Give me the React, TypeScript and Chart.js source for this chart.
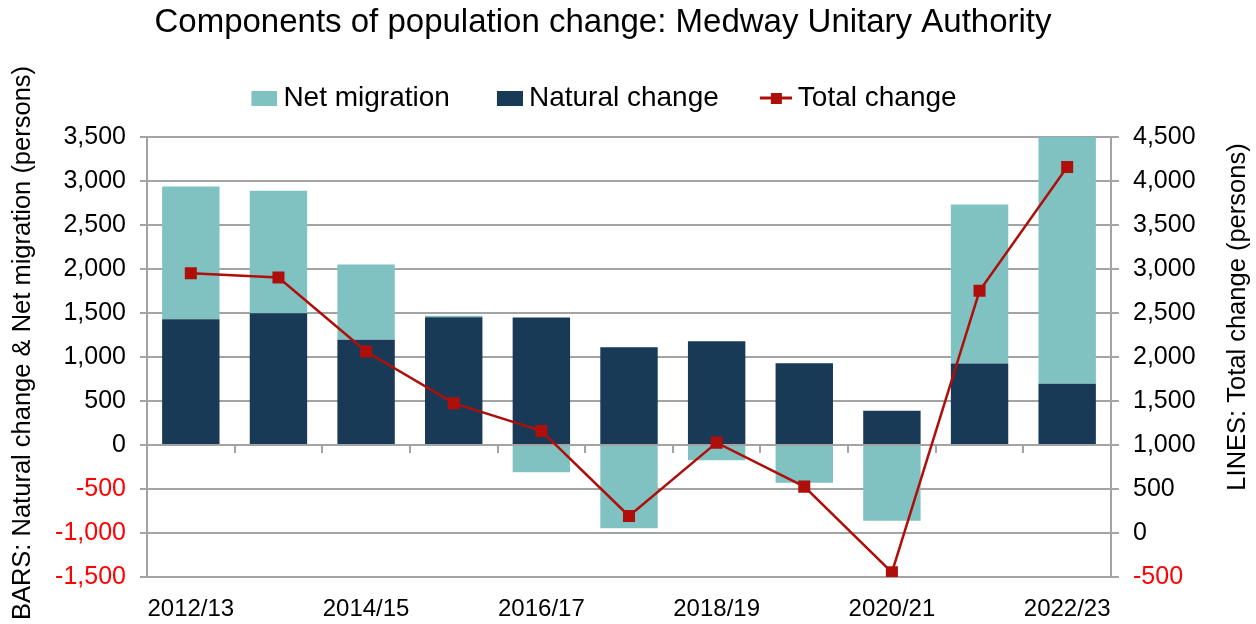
import React, { useEffect, useRef } from 'react';
import { Chart, registerables } from 'chart.js';

Chart.register(...registerables);

// ---- Data ----
const categories = ['2012/13', '2013/14', '2014/15', '2015/16', '2016/17', '2017/18', '2018/19', '2019/20', '2020/21', '2021/22', '2022/23'];
const netMigration = [1508, 1391, 853, 18, -310, -946, -174, -429, -861, 1808, 2815];
const naturalChange = [1429, 1497, 1197, 1452, 1448, 1111, 1179, 929, 390, 925, 695];
const totalChange = [2953, 2903, 2062, 1475, 1160, 193, 1027, 527, -447, 2752, 4159];
const leftAxisRange = [-1500, 3500, 500];
const rightAxisRange = [-500, 4500, 500];

const TITLE = 'Components of population change: Medway Unitary Authority';
const LEFT_TITLE = 'BARS: Natural change & Net migration (persons)';
const RIGHT_TITLE = 'LINES: Total change (persons)';

const TEAL = '#80C1C1';
const NAVY = '#183A56';
const RED = '#AF0F0B';
const GRID = '#A3A3A3';
const FONT = '"Liberation Sans", Arial, Helvetica, sans-serif';

const fmt = (v: number) => v.toLocaleString('en-US');

function makeSwatch(kind: 'box' | 'line', color: string): HTMLCanvasElement {
  const c = document.createElement('canvas');
  c.width = 36;
  c.height = 16;
  const g = c.getContext('2d')!;
  if (kind === 'box') {
    g.fillStyle = color;
    g.fillRect(10, 1, 26, 15);
  } else {
    g.strokeStyle = color;
    g.lineWidth = 3;
    g.beginPath();
    g.moveTo(4, 8);
    g.lineTo(36, 8);
    g.stroke();
    g.fillStyle = color;
    g.fillRect(15, 3, 11, 11);
  }
  return c;
}

const axisTitlesPlugin = {
  id: 'axisTitles',
  afterDraw(chart: any) {
    const ctx = chart.ctx as CanvasRenderingContext2D;
    ctx.save();
    ctx.font = `25.5px ${FONT}`;
    ctx.fillStyle = '#000';
    ctx.textAlign = 'center';
    ctx.textBaseline = 'middle';
    ctx.save();
    ctx.translate(23, 343);
    ctx.rotate(-Math.PI / 2);
    ctx.fillText(LEFT_TITLE, 0, 0);
    ctx.restore();
    ctx.save();
    ctx.translate(1238, 317);
    ctx.rotate(-Math.PI / 2);
    ctx.fillText(RIGHT_TITLE, 0, 0);
    ctx.restore();
    ctx.restore();
  },
};

export default function App() {
  const ref = useRef<HTMLCanvasElement | null>(null);

  useEffect(() => {
    if (!ref.current) return;
    const swatches = [makeSwatch('box', TEAL), makeSwatch('box', NAVY), makeSwatch('line', RED)];
    const tickColor = (c: any) => (c.tick && c.tick.value < 0 ? '#FF0000' : '#000000');

    const chart = new Chart(ref.current, {
      type: 'bar',
      data: {
        labels: categories,
        datasets: [
          {
            type: 'line',
            label: 'Total change',
            data: totalChange,
            xAxisID: 'x',
            yAxisID: 'y2',
            borderColor: RED,
            backgroundColor: RED,
            borderWidth: 2.5,
            pointStyle: 'rect',
            pointRadius: 8.5,
            pointBackgroundColor: RED,
            pointBorderColor: RED,
            pointBorderWidth: 0,
            tension: 0,
            order: 0,
          } as any,
          {
            label: 'Natural change',
            data: naturalChange,
            xAxisID: 'x',
            yAxisID: 'y',
            backgroundColor: NAVY,
            stack: 's',
            barPercentage: 0.655,
            categoryPercentage: 1,
            order: 1,
          },
          {
            label: 'Net migration',
            data: netMigration,
            xAxisID: 'x',
            yAxisID: 'y',
            backgroundColor: TEAL,
            stack: 's',
            barPercentage: 0.655,
            categoryPercentage: 1,
            order: 2,
          },
        ],
      },
      options: {
        responsive: false,
        animation: false,
        layout: { padding: { left: 0, right: 50, top: 0, bottom: 0 } },
        plugins: {
          title: {
            display: true,
            text: TITLE,
            color: '#000',
            font: { family: FONT, size: 33, weight: 'normal', lineHeight: 1 },
            padding: { top: 6, bottom: 0 },
          },
          legend: {
            display: true,
            position: 'top',
            labels: {
              usePointStyle: true,
              pointStyleWidth: 20,
              padding: 45,
              color: '#000',
              font: { family: FONT, size: 28 },
              generateLabels: () => [
                { text: 'Net migration', pointStyle: swatches[0], fillStyle: TEAL, strokeStyle: TEAL, lineWidth: 0, hidden: false, datasetIndex: 2 },
                { text: 'Natural change', pointStyle: swatches[1], fillStyle: NAVY, strokeStyle: NAVY, lineWidth: 0, hidden: false, datasetIndex: 1 },
                { text: 'Total change', pointStyle: swatches[2], fillStyle: RED, strokeStyle: RED, lineWidth: 0, hidden: false, datasetIndex: 0 },
              ] as any,
            },
          },
          tooltip: { enabled: false },
        },
        scales: {
          x: {
            type: 'category',
            position: 'bottom',
            stacked: true,
            offset: true,
            grid: { display: false, drawTicks: false },
            border: { display: false },
            ticks: {
              autoSkip: false,
              maxRotation: 0,
              minRotation: 0,
              padding: 18,
              color: '#000',
              font: { family: FONT, size: 24 },
              callback: (_v: any, i: number) => (i % 2 === 0 ? categories[i] : ''),
            },
            afterFit: (s: any) => {
              s.height = 47;
            },
          },
          xtop: {
            type: 'category',
            axis: 'x',
            position: 'top',
            labels: categories,
            offset: true,
            grid: { display: false, drawTicks: false },
            border: { display: false },
            ticks: { display: false },
            afterFit: (s: any) => {
              s.height = 15;
            },
          },
          xzero: {
            type: 'category',
            axis: 'x',
            position: { y: 0 },
            labels: categories,
            offset: true,
            grid: { display: true, offset: true, drawOnChartArea: false, drawTicks: true, tickLength: 7, color: GRID, lineWidth: 2 },
            border: { display: true, color: GRID, width: 2 },
            ticks: { display: false },
          },
          y: {
            type: 'linear',
            position: 'left',
            stacked: true,
            min: leftAxisRange[0],
            max: leftAxisRange[1],
            ticks: {
              stepSize: leftAxisRange[2],
              padding: 14,
              color: tickColor,
              font: { family: FONT, size: 25 },
              callback: (v: any) => fmt(Number(v)),
            },
            grid: { color: GRID, lineWidth: 2, tickLength: 7, drawTicks: true },
            border: { display: true, color: GRID, width: 2 },
            afterFit: (s: any) => {
              s.width = 147;
            },
          },
          y2: {
            type: 'linear',
            position: 'right',
            min: rightAxisRange[0],
            max: rightAxisRange[1],
            ticks: {
              stepSize: rightAxisRange[2],
              padding: 14,
              color: tickColor,
              font: { family: FONT, size: 25 },
              callback: (v: any) => fmt(Number(v)),
            },
            grid: { drawOnChartArea: false, color: GRID, lineWidth: 2, tickLength: 8, drawTicks: true },
            border: { display: true, color: GRID, width: 2 },
            afterFit: (s: any) => {
              s.width = 95;
            },
          },
        },
      } as any,
      plugins: [axisTitlesPlugin],
    });
    return () => chart.destroy();
  }, []);

  return (
    <div style={{ position: 'fixed', left: 0, top: 0, width: 1256, height: 624, background: '#fff' }}>
      <canvas ref={ref} width={1256} height={624} style={{ width: 1256, height: 624, display: 'block' }} />
    </div>
  );
}
